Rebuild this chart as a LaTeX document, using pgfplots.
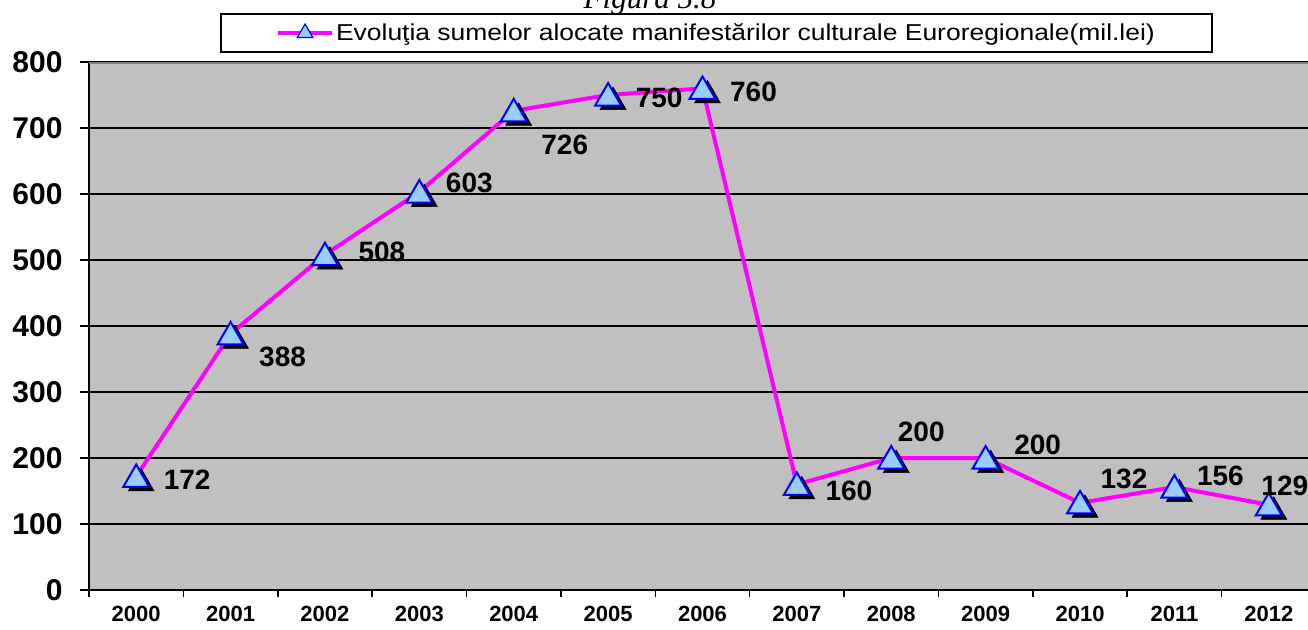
\documentclass[border=0pt]{standalone}
\usepackage{fontspec}
\setmainfont{Liberation Sans}
\newfontfamily\timesfont{Liberation Serif}
\usepackage{graphicx}
\usepackage{pgfplots}
\usepackage{pgfplotstable}
\pgfplotsset{compat=1.18}
\definecolor{plotbg}{HTML}{C0C0C0}
\definecolor{mkfill}{HTML}{99CCFF}
\definecolor{mkedge}{HTML}{0000FF}
\definecolor{linemag}{HTML}{FF00FF}
\definecolor{topgray}{HTML}{808080}

\pgfplotstableread{
x y dx dy
0 172 51 0
1 388 52 -20
2 508 57 6
3 603 50 12
4 726 51 -31
5 750 51 0
6 760 51 0
7 160 52 -3
8 200 30 29
9 200 52 16
10 132 44 27
11 156 46 14
12 129 16 22
}\data

\begin{document}
\begin{tikzpicture}
\begin{axis}[
  at={(89pt,39pt)}, anchor=south west,
  scale only axis, width=1227pt, height=528pt,
  xmin=-0.5, xmax=12.5, ymin=0, ymax=800,
  axis background/.style={fill=plotbg},
  axis x line*=bottom, axis y line*=left,
  axis line style={black, line width=1.8pt},
  xtick={0,...,12},
  xticklabels={2000,2001,2002,2003,2004,2005,2006,2007,2008,2009,2010,2011,2012},
  major x tick style={draw=none},
  minor xtick={-0.5,0.5,...,12.5},
  minor x tick style={black, line width=1.5pt},
  minor tick length=7pt,
  ytick={0,100,...,800},
  major tick length=9pt,
  tick align=outside,
  y tick style={black, line width=1.5pt},
  ymajorgrids, grid style={black, line width=1.2pt},
  /pgf/number format/assume math mode=true,
  xticklabel style={font=\bfseries\fontsize{22}{22}\selectfont, yshift=-4pt},
  yticklabel style={font=\bfseries\fontsize{30}{30}\selectfont, xshift=-14pt},
  legend image code/.code={
    \draw[#1] (0pt,0pt) -- (54pt,0pt);
    \draw[#1] plot coordinates {(27pt,0pt)};
  },
  legend style={at={(0.5114,1.0549)}, anchor=center, draw=black, line width=1.5pt,
    fill=white, inner xsep=55pt, inner ysep=8pt,
    font=\fontsize{23}{25}\selectfont},
]
\addplot[linemag, line width=4pt, forget plot] table[x=x,y=y]{\data};
\addplot[only marks, mark=triangle*, mark size=15pt,
  mark options={fill=black, draw=black, line width=0.5pt, xshift=5pt, yshift=-7pt},
  forget plot] table[x=x,y=y]{\data};
\addplot[only marks, mark=triangle*, mark size=15pt,
  mark options={fill=mkfill, draw=mkedge, line width=2pt, yshift=-3pt},
  nodes near coords,
  visualization depends on={\thisrow{dx} \as \dx},
  visualization depends on={\thisrow{dy} \as \dy},
  nodes near coords style={anchor=center, xshift=\dx*1pt, yshift=\dy*1pt,
    font=\bfseries\fontsize{28}{28}\selectfont, text=black},
  forget plot] table[x=x,y=y]{\data};
\draw[topgray, line width=3pt] (rel axis cs:0,1) -- (rel axis cs:1,1);
\addlegendimage{linemag, line width=4pt, mark=triangle*, mark size=9pt,
  mark options={fill=mkfill, draw=mkedge, line width=1.2pt}}
\addlegendentry{\scalebox{1.15}[1]{Evoluţia sumelor alocate manifestărilor culturale Euroregionale(mil.lei)}}
\end{axis}
\node[font=\timesfont\itshape\fontsize{31}{31}\selectfont, anchor=base] at (650pt,620pt) {Figura 5.8};
\pgfresetboundingbox
\path[use as bounding box] (0pt,0pt) rectangle (1308pt,629pt);
\end{tikzpicture}
\end{document}
